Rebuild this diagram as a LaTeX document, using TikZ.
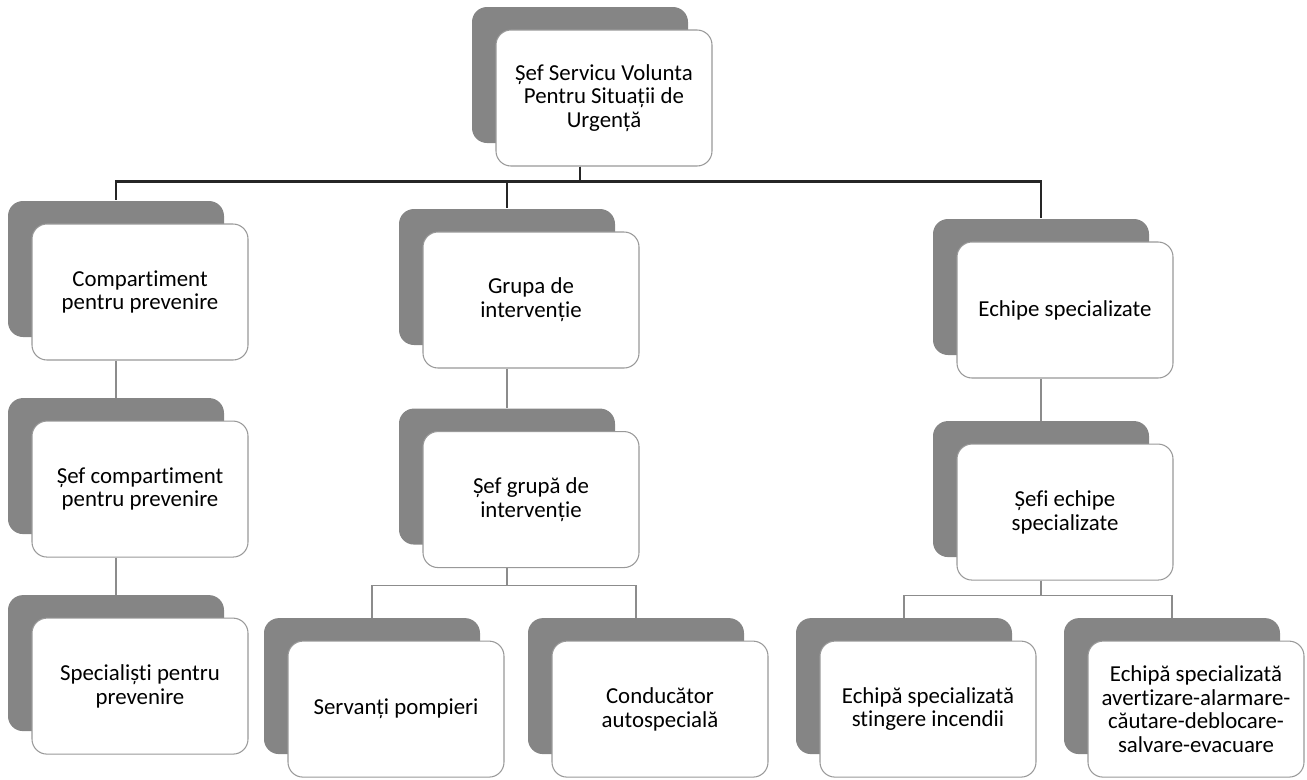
\documentclass[tikz,border=0pt]{standalone}
\usepackage{fontspec}
\setmainfont{Carlito}[Ligatures=NoCommon]
\usepackage{tikz}
\usetikzlibrary{shadows,positioning}

\begin{document}
\begin{tikzpicture}[
    orgbox/.style={rectangle, rounded corners=0.3cm, draw=black!40, line width=0.6pt, fill=white,
      minimum width=4.32cm, minimum height=2.72cm, align=center, inner sep=2pt,
      font=\fontsize{13}{13.5}\selectfont,
      copy shadow={shadow xshift=-0.48cm, shadow yshift=0.46cm, fill=black!48, draw=none}},
    mainlink/.style={draw=black!85, line width=1.3pt},
    link/.style={draw=black!45, line width=0.9pt}]
  \useasboundingbox (0,0) rectangle (26.14,-15.58);

  \node (sef) [orgbox] at (12.08,-1.96) {Șef Servicu Volunta\\Pentru Situații de\\Urgență};

  % prevenire
  \node (comp) [orgbox] at (2.80,-5.84) {Compartiment\\pentru prevenire};
  \node (sefcomp) [orgbox, below=1.2cm of comp] {Șef compartiment\\pentru prevenire};
  \node (spec) [orgbox, below=1.2cm of sefcomp] {Specialiști pentru\\prevenire};

  % interventie
  \node (grupa) [orgbox] at (10.62,-6.00) {Grupa de\\intervenție};
  \node (sefgrupa) [orgbox, below=1.25cm of grupa] {Șef grupă de\\intervenție};
  \node (servanti) [orgbox, below=1.45cm of sefgrupa, xshift=-2.70cm] {Servanți pompieri};
  \node (conducator) [orgbox, below=1.45cm of sefgrupa, xshift=2.58cm] {Conducător\\autospecială};

  % echipe
  \node (echipe) [orgbox] at (21.30,-6.20) {Echipe specializate};
  \node (sefiechipe) [orgbox, below=1.3cm of echipe] {Șefi echipe\\specializate};
  \node (stingere) [orgbox, below=1.2cm of sefiechipe, xshift=-2.74cm] {Echipă specializată\\stingere incendii};
  \node (avertizare) [orgbox, below=1.2cm of sefiechipe, xshift=2.62cm] {Echipă specializată\\avertizare-alarmare-\\căutare-deblocare-\\salvare-evacuare};

  \draw [mainlink] ([xshift=-0.48cm]sef.south) -- ++(0,-0.3) -| ([xshift=-0.48cm,yshift=0.46cm]comp.north);
  \draw [mainlink] ([xshift=-0.48cm]sef.south) -- ++(0,-0.3) -| ([xshift=-0.48cm,yshift=0.46cm]grupa.north);
  \draw [mainlink] ([xshift=-0.48cm]sef.south) -- ++(0,-0.3) -| ([xshift=-0.48cm,yshift=0.46cm]echipe.north);

  \draw [link] ([xshift=-0.48cm]comp.south) -- ([xshift=-0.48cm,yshift=0.46cm]sefcomp.north);
  \draw [link] ([xshift=-0.48cm]sefcomp.south) -- ([xshift=-0.48cm,yshift=0.46cm]spec.north);
  \draw [link] ([xshift=-0.48cm]grupa.south) -- ([xshift=-0.48cm,yshift=0.46cm]sefgrupa.north);
  \draw [link] ([xshift=-0.48cm]echipe.south) -- ([xshift=-0.48cm,yshift=0.46cm]sefiechipe.north);

  \draw [link] ([xshift=-0.48cm]sefgrupa.south) -- ++(0,-0.35) -| ([xshift=-0.48cm,yshift=0.46cm]servanti.north);
  \draw [link] ([xshift=-0.48cm]sefgrupa.south) -- ++(0,-0.35) -| ([xshift=-0.48cm,yshift=0.46cm]conducator.north);
  \draw [link] ([xshift=-0.48cm]sefiechipe.south) -- ++(0,-0.3) -| ([xshift=-0.48cm,yshift=0.46cm]stingere.north);
  \draw [link] ([xshift=-0.48cm]sefiechipe.south) -- ++(0,-0.3) -| ([xshift=-0.48cm,yshift=0.46cm]avertizare.north);
\end{tikzpicture}
\end{document}
